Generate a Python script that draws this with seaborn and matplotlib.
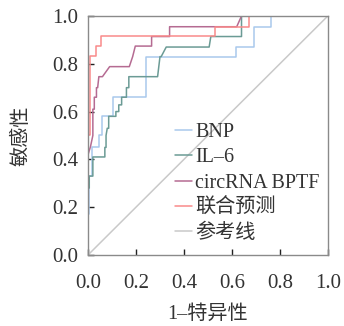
import pandas as pd
import matplotlib
matplotlib.use("Agg")
import matplotlib.pyplot as plt
import seaborn as sns

sns.set_style("white")
plt.rcParams['font.family'] = ['Liberation Serif', 'Noto Sans CJK SC']

# ROC step points (1-specificity, sensitivity)
bnp_fpr = [0, 0, 0.005, 0.005, 0.015, 0.015, 0.045, 0.045, 0.06, 0.06, 0.105, 0.105,
           0.24, 0.24, 0.615, 0.615, 0.69, 0.69, 0.765, 0.765, 1.0]
bnp_tpr = [0, 0.17, 0.17, 0.33, 0.33, 0.45, 0.45, 0.50, 0.50, 0.58, 0.58, 0.66,
           0.66, 0.83, 0.83, 0.87, 0.87, 0.955, 0.955, 1.0, 1.0]

il6_fpr = [0, 0, 0.005, 0.005, 0.02, 0.02, 0.07, 0.07, 0.075, 0.075, 0.08, 0.086, 0.086,
           0.116, 0.116, 0.128, 0.128, 0.14, 0.14, 0.16, 0.16, 0.17, 0.17, 0.29, 0.30,
           0.305, 0.326, 0.505, 0.512, 0.64, 0.64, 1.0]
il6_tpr = [0, 0.28, 0.28, 0.33, 0.33, 0.41, 0.41, 0.45, 0.45, 0.50, 0.53, 0.53, 0.58,
           0.58, 0.60, 0.60, 0.628, 0.628, 0.66, 0.66, 0.70, 0.70, 0.746, 0.746, 0.83,
           0.83, 0.87, 0.87, 0.914, 0.914, 1.0, 1.0]

circ_fpr = [0, 0, 0.01, 0.02, 0.02, 0.026, 0.026, 0.035, 0.035, 0.04, 0.045, 0.06, 0.09,
            0.172, 0.186, 0.197, 0.265, 0.265, 0.34, 0.34, 0.62, 0.64, 1.0]
circ_tpr = [0, 0.42, 0.453, 0.50, 0.61, 0.61, 0.66, 0.66, 0.70, 0.70, 0.746, 0.746, 0.788,
            0.788, 0.83, 0.874, 0.874, 0.914, 0.914, 0.955, 0.955, 1.0, 1.0]

comb_fpr = [0, 0, 0.008, 0.008, 0.033, 0.033, 0.054, 0.054, 0.53, 0.53, 0.67, 0.67, 1.0]
comb_tpr = [0, 0.5, 0.5, 0.833, 0.833, 0.874, 0.874, 0.916, 0.916, 0.955, 0.955, 1.0, 1.0]

ref_x = [0, 1]
ref_y = [0, 1]

labels = ["BNP", "IL–6", "circRNA BPTF", "联合预测", "参考线"]
colors = ["#a9c9ec", "#6b9b95", "#b56b92", "#f98a8a", "#c9c9c9"]

curves = [(bnp_fpr, bnp_tpr), (il6_fpr, il6_tpr), (circ_fpr, circ_tpr),
          (comb_fpr, comb_tpr), (ref_x, ref_y)]

fig = plt.figure(figsize=(3.44, 3.26), dpi=100)
ax = fig.add_axes([0.256, 0.218, 0.697, 0.733])

for (x, y), lab, c in zip(curves, labels, colors):
    df = pd.DataFrame({"fpr": x, "tpr": y})
    sns.lineplot(data=df, x="fpr", y="tpr", sort=False, estimator=None,
                 color=c, linewidth=1.1, label=lab, ax=ax)

ax.set_xlim(0, 1)
ax.set_ylim(0, 1)
ax.set_xticks([0, 0.2, 0.4, 0.6, 0.8, 1.0])
ax.set_yticks([0, 0.2, 0.4, 0.6, 0.8, 1.0])
ax.set_xticklabels(["0.0", "0.2", "0.4", "0.6", "0.8", "1.0"])
ax.set_yticklabels(["0.0", "0.2", "0.4", "0.6", "0.8", "1.0"])
ax.tick_params(direction="in", length=4, width=1, colors="#222222", labelsize=15,
               bottom=True, left=True, labelcolor="#333333")
ax.tick_params(axis="x", pad=14)
ax.tick_params(axis="y", pad=7)
for s in ax.spines.values():
    s.set_color("#8a8a8a")
    s.set_linewidth(1.0)

ax.set_xlabel("1–特异性", fontsize=14.5, color="#333333", labelpad=8)
ax.set_ylabel("敏感性", fontsize=14.5, color="#333333", labelpad=15)

ax.legend(loc="upper left", bbox_to_anchor=(0.33, 0.585), frameon=False,
          fontsize=14.5, handlelength=0.85, handletextpad=0.15, labelspacing=0.3,
          borderaxespad=0, labelcolor="#333333")

fig.savefig("out.png", dpi=100)
